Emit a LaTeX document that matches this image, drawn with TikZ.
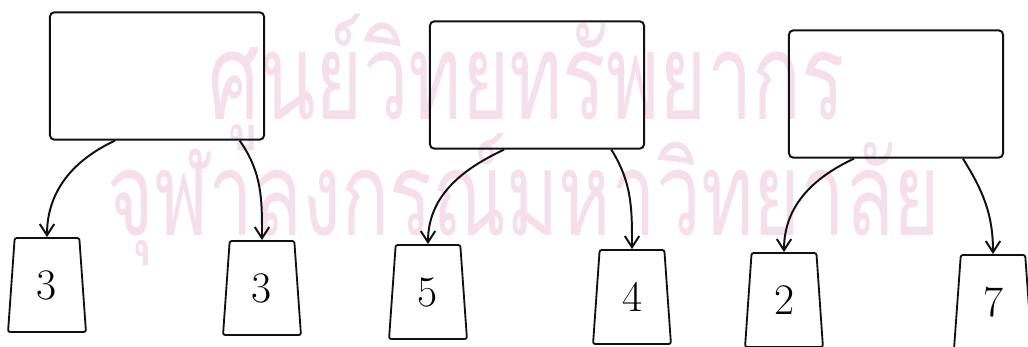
\documentclass[tikz,border=0pt]{standalone}
\usepackage{fontspec}
\usepackage{xcolor}
\usepackage{graphicx}
\usetikzlibrary{shapes.geometric,arrows.meta}
\newfontfamily\thaifont[Script=Thai]{Loma}
\definecolor{markPink}{HTML}{F5DFEB}
\definecolor{inkBlack}{HTML}{111111}
\tikzset{
  bigBox/.style={rectangle, rounded corners=3pt, draw=inkBlack, line width=1.4pt, minimum width=5.35cm, minimum height=3.18cm},
  leafBox/.style={trapezium, trapezium stretches=true, trapezium left angle=86, trapezium right angle=86, rounded corners=1.5pt, draw=inkBlack, line width=1.3pt, minimum width=1.95cm, minimum height=2.35cm, inner sep=0pt, font=\fontsize{31pt}{33pt}\selectfont},
  branch/.style={-{Straight Barb[length=2.8mm,width=3.6mm]}, draw=inkBlack, line width=1.4pt},
  waterMark/.style={text=markPink, font=\thaifont\fontsize{90pt}{94pt}\selectfont, inner sep=0pt}
}
\begin{document}
\begin{tikzpicture}[x=0.025cm, y=-0.025cm]
  \useasboundingbox (0,0) rectangle (1028,347);
  % watermark
  \node[waterMark] (wm1) at (527,82) {\scalebox{0.64}[0.95]{ศูนย์วิทยทรัพยากร}};
  \node[waterMark] (wm2) at (524,200) {\scalebox{0.63}[0.92]{จุฬาลงกรณ์มหาวิทยาลัย}};

  % upper boxes
  \node[bigBox] (r1) at (157,76) {};
  \node[bigBox] (r2) at (537,85) {};
  \node[bigBox] (r3) at (896,94) {};

  % lower boxes
  \node[leafBox] (l1) at (47,285) {3};
  \node[leafBox] (l2) at (262,288) {3};
  \node[leafBox] (l3) at (428,292) {5};
  \node[leafBox] (l4) at (632,297) {4};
  \node[leafBox] (l5) at (784,300) {2};
  \node[leafBox] (l6) at (993,302) {7};

  % arrows
  \draw[branch] (r1.-123) to[out=205, in=90] (l1.north);
  \draw[branch] (r1.-38) to[out=-55, in=90] (l2.north);
  \draw[branch] (r2.-117) to[out=205, in=90] (l3.north);
  \draw[branch] (r2.-41) to[out=-58, in=90] (l4.north);
  \draw[branch] (r3.-123) to[out=205, in=90] (l5.north);
  \draw[branch] (r3.-44) to[out=-58, in=90] (l6.north);
\end{tikzpicture}
\end{document}
